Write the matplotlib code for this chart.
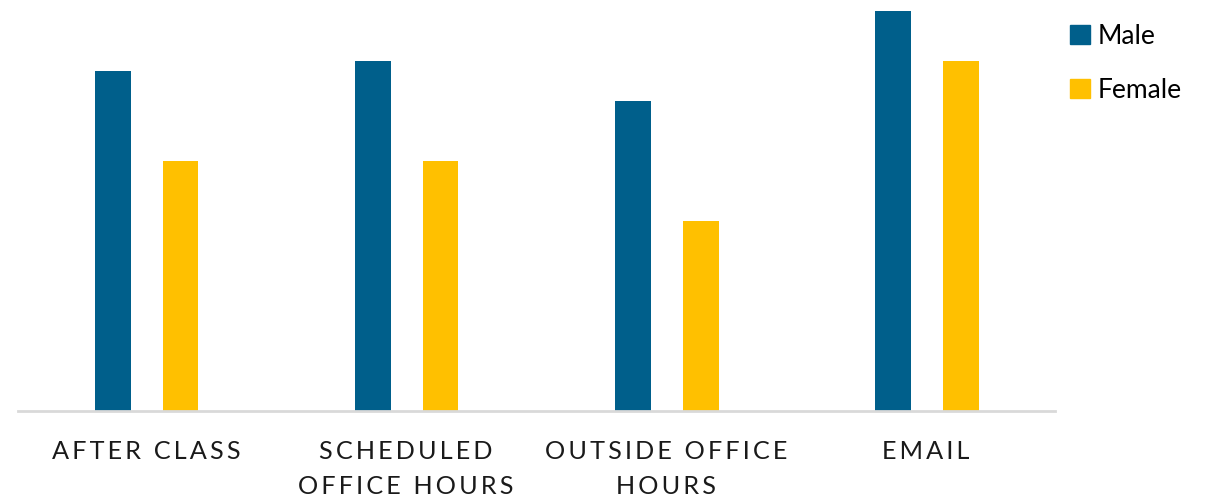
import matplotlib.pyplot as plt
import numpy as np
from matplotlib.patches import Patch
from matplotlib.transforms import ScaledTranslation

categories = ['AFTER CLASS', 'SCHEDULED\nOFFICE HOURS', 'OUTSIDE OFFICE\nHOURS', 'EMAIL']
male = [34, 35, 31, 40]
female = [25, 25, 19, 35]

MALE_C = '#005F8B'
FEMALE_C = '#FFC000'
FONT = ['Lato', 'DejaVu Sans']


def spaced(s):
    # fake letter spacing with thin spaces
    return '\n'.join('\u2009'.join(line) for line in s.split('\n'))


fig = plt.figure(figsize=(12.17, 5.03), dpi=100)
ax = fig.add_axes([18 / 1217, 92 / 503, 1037 / 1217, 400 / 503])

x = np.arange(len(categories))
w = 0.138
ax.bar(x - 0.135, male, width=w, color=MALE_C)
ax.bar(x + 0.125, female, width=w, color=FEMALE_C)

ax.set_xlim(-0.5, len(categories) - 0.5 - 0.012)
ax.set_ylim(0, 40)
for s in ['top', 'right', 'left']:
    ax.spines[s].set_visible(False)
ax.spines['bottom'].set_color('#D9D9D9')
ax.spines['bottom'].set_linewidth(2)
ax.set_yticks([])
ax.set_xticks(x)
ax.set_xticklabels([spaced(c) for c in categories], family=FONT, fontsize=18.2,
                   color='#1a1a1a', linespacing=1.6)
ax.tick_params(axis='x', length=0, pad=21)
shift = ScaledTranslation(-2 / 100, 0, fig.dpi_scale_trans)
for lbl in ax.get_xticklabels():
    lbl.set_transform(lbl.get_transform() + shift)

handles = [Patch(color=MALE_C), Patch(color=FEMALE_C)]
fig.legend(handles, ['Male', 'Female'], loc='upper left',
           bbox_to_anchor=(1070 / 1217, 1 - 24 / 503), frameon=False,
           prop={'family': FONT, 'size': 19}, handlelength=0.75, handleheight=0.75,
           handletextpad=0.3, labelspacing=1.1, borderpad=0, borderaxespad=0)

fig.savefig('out.png', dpi=100)
